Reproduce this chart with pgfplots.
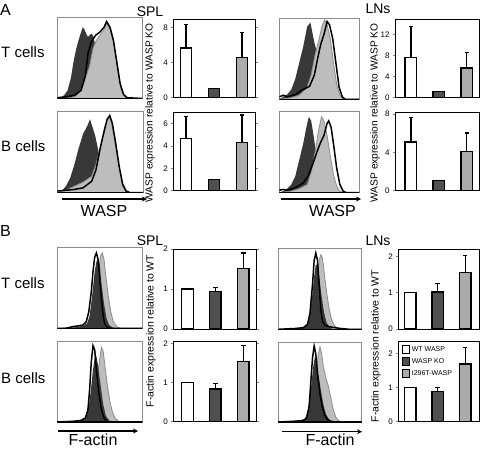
\documentclass[border=0pt]{standalone}
\usepackage{fontspec}
\setmainfont{Liberation Sans}
\usepackage{pgfplots}
\pgfplotsset{compat=1.18}
\usetikzlibrary{arrows.meta}
\definecolor{dk}{HTML}{383838}
\definecolor{lt}{HTML}{BDBDBD}
\definecolor{md}{HTML}{8C8C8C}
\definecolor{kobar}{HTML}{505050}
\definecolor{mutbar}{HTML}{ABABAB}
\pgfplotsset{
 histax/.style={scale only axis, xmin=0, xmax=100, ymin=0, ymax=100, ticks=none,
   axis line style={draw=md, line width=0.8pt}},
 barax/.style={scale only axis, ybar, bar width=11.5pt, /pgf/bar shift=0pt, ymin=0,
   xtick=\empty, axis line style={line width=0.8pt},
   tick align=outside, major tick length=2pt,
   ytick style={line width=0.5pt},
   tick label style={font=\fontsize{8}{9}\selectfont},
   /pgf/number format/assume math mode=true},
 bb/.style={draw=black, line width=1.4pt, fill=#1,
   error bars/y dir=plus, error bars/y explicit,
   error bars/error bar style={line width=1.2pt, black},
   error bars/error mark options={rotate=90, mark size=2.2pt, line width=1.2pt, black}},
 hdk/.style={fill=dk, draw=none},
 hlt/.style={fill=lt, draw=md, line width=0.8pt},
 hbk/.style={draw=black, line width=1.5pt, no marks},
}
\newcommand{\bottomline}{\draw[black, line width=1.4pt] (rel axis cs:0,0) -- (rel axis cs:1,0);}
\begin{document}
\begin{tikzpicture}
\useasboundingbox (0pt,0pt) rectangle (480pt,-448pt);
\begin{scope}[x=1pt,y=1pt]
\tikzset{lab/.style={inner sep=0pt, font=\fontsize{15}{16}\selectfont}}
% panel letters and titles
\node[lab, anchor=base west, font=\fontsize{16}{17}\selectfont] at (0,-15) {A};
\node[lab, anchor=base west, font=\fontsize{16}{17}\selectfont] at (0,-236.7) {B};
\node[lab, anchor=base west] at (1,-57.3) {T cells};
\node[lab, anchor=base west] at (1,-151.7) {B cells};
\node[lab, anchor=base west] at (1,-288.3) {T cells};
\node[lab, anchor=base west] at (1,-383.3) {B cells};
\node[lab, anchor=base, font=\fontsize{14}{15}\selectfont] at (150,-16) {SPL};
\node[lab, anchor=base, font=\fontsize{14}{15}\selectfont] at (378,-13.3) {LNs};
\node[lab, anchor=base, font=\fontsize{14}{15}\selectfont] at (150,-245) {SPL};
\node[lab, anchor=base, font=\fontsize{14}{15}\selectfont] at (378,-245) {LNs};
% x arrows and labels
\draw[line width=1.3pt, -{Stealth[length=5pt,width=5pt]}] (62,-199) -- (147,-199);
\draw[line width=1.3pt, -{Stealth[length=5pt,width=5pt]}] (281,-199) -- (361,-199);
\draw[line width=1.3pt, -{Stealth[length=5pt,width=5pt]}] (58,-431) -- (138,-431);
\draw[line width=1.3pt, -{Stealth[length=5pt,width=5pt]}] (282,-431.7) -- (362,-431.7);
\node[lab, anchor=base, font=\fontsize{16}{17}\selectfont] at (104,-216.7) {WASP};
\node[lab, anchor=base, font=\fontsize{16}{17}\selectfont] at (332.5,-216.7) {WASP};
\node[lab, anchor=base, font=\fontsize{16}{17}\selectfont] at (93,-445) {F-actin};
\node[lab, anchor=base, font=\fontsize{16}{17}\selectfont] at (330,-445) {F-actin};
% y labels
\node[inner sep=0pt, rotate=90, font=\fontsize{10.2}{11}\selectfont] at (150,-113) {WASP expression relative to WASP KO};
\node[inner sep=0pt, rotate=90, font=\fontsize{10.2}{11}\selectfont] at (375,-113) {WASP expression relative to WASP KO};
\node[inner sep=0pt, rotate=90, font=\fontsize{10.4}{11}\selectfont] at (151,-331) {F-actin expression relative to WT};
\node[inner sep=0pt, rotate=90, font=\fontsize{10.4}{11}\selectfont] at (376,-346) {F-actin expression relative to WT};
\end{scope}

% ===== Histograms A =====
\begin{axis}[histax, at={(57.3pt,-17.5pt)}, anchor=north west, width=85pt, height=81pt]
\addplot[hdk] coordinates {(0,0)(3,1)(8,4)(12,10)(16,25)(19,45)(22,60)(25,72)(28,82)(30,88)(32,85)(34,80)(36,76)(38,78)(40,80)(42,78)(45,65)(50,55)(55,48)(60,40)(65,25)(70,10)(75,3)(80,0)(100,0)};
\addplot[hlt] coordinates {(0,0)(15,1)(22,3)(28,10)(33,25)(38,40)(42,62)(46,72)(50,78)(55,85)(58,93)(62,85)(66,70)(70,45)(73,22)(76,8)(80,2)(85,0)(100,0)};
\addplot[hbk] coordinates {(0,1)(10,2)(20,4)(28,10)(33,28)(36,55)(40,70)(45,78)(50,82)(55,88)(58,95)(62,88)(66,72)(70,45)(74,18)(78,5)(82,1)(100,0)};
\bottomline
\end{axis}
\begin{axis}[histax, at={(57.3pt,-111pt)}, anchor=north west, width=86pt, height=81.7pt]
\addplot[hdk] coordinates {(0,0)(5,2)(10,8)(15,18)(20,35)(25,55)(30,72)(35,82)(38,90)(41,80)(44,70)(47,55)(50,40)(54,25)(58,12)(62,5)(66,1)(70,0)(100,0)};
\addplot[hlt] coordinates {(0,0)(10,3)(20,8)(30,13)(40,20)(45,35)(50,55)(55,75)(58,90)(61,96)(64,80)(68,55)(72,30)(76,12)(80,3)(84,0)(100,0)};
\addplot[hbk] coordinates {(0,2)(10,3)(20,4)(30,6)(40,14)(45,28)(50,55)(55,78)(58,90)(61,94)(64,85)(68,60)(72,32)(76,10)(80,2)(85,0)(100,0)};
\bottomline
\end{axis}
\begin{axis}[histax, at={(279.3pt,-18.3pt)}, anchor=north west, width=79.7pt, height=81pt]
\addplot[hdk] coordinates {(0,0)(5,3)(10,6)(15,12)(20,25)(25,45)(30,65)(33,80)(35,90)(37,92)(39,95)(41,85)(44,70)(48,55)(52,45)(56,30)(60,15)(65,5)(70,1)(75,0)(100,0)};
\addplot[hlt] coordinates {(0,0)(15,2)(25,5)(35,15)(40,30)(45,55)(50,75)(54,92)(57,98)(60,92)(64,75)(68,45)(72,18)(76,5)(80,0)(100,0)};
\addplot[hbk] coordinates {(0,3)(5,5)(10,3)(20,6)(30,12)(38,16)(44,30)(48,50)(52,68)(56,80)(60,96)(63,92)(67,75)(71,45)(75,15)(79,3)(83,0)(100,0)};
\bottomline
\end{axis}
\begin{axis}[histax, at={(279.3pt,-111pt)}, anchor=north west, width=79.7pt, height=81.7pt]
\addplot[hdk] coordinates {(0,0)(5,2)(10,5)(15,10)(20,20)(25,40)(30,60)(34,80)(37,93)(40,88)(43,70)(46,50)(50,32)(54,18)(58,8)(62,3)(66,0)(100,0)};
\addplot[hlt] coordinates {(0,0)(15,2)(25,5)(35,10)(40,25)(45,50)(49,75)(53,93)(56,88)(60,70)(64,45)(68,22)(72,8)(76,2)(80,0)(100,0)};
\addplot[hbk] coordinates {(0,3)(5,4)(10,3)(20,6)(30,12)(36,20)(42,35)(48,52)(52,62)(56,70)(60,85)(62,88)(65,80)(68,60)(72,30)(76,10)(80,2)(84,0)(100,0)};
\bottomline
\end{axis}

% ===== Histograms B =====
\begin{axis}[histax, at={(57.3pt,-247.3pt)}, anchor=north west, width=85pt, height=81pt]
\addplot[hlt] coordinates {(0,0)(30,1)(36,3)(40,8)(43,20)(46,45)(49,75)(51,90)(53,93)(55,85)(57,65)(60,40)(63,20)(66,8)(70,2)(75,0)(100,0)};
\addplot[hdk] coordinates {(0,0)(20,1)(30,3)(35,6)(38,15)(41,40)(44,70)(46,82)(48,86)(50,78)(52,55)(55,30)(58,12)(61,4)(65,1)(70,0)(100,0)};
\addplot[hbk] coordinates {(0,0)(10,0)(18,2)(25,3)(30,4)(34,8)(37,20)(40,45)(42,70)(44,88)(46,93)(48,85)(50,60)(52,35)(54,15)(56,5)(59,1)(63,0)(100,0)};
\bottomline
\end{axis}
\begin{axis}[histax, at={(57.3pt,-341.7pt)}, anchor=north west, width=85pt, height=80.3pt]
\addplot[hlt] coordinates {(0,0)(32,1)(37,4)(41,12)(44,30)(47,55)(50,80)(52,93)(54,88)(56,70)(59,45)(62,25)(65,12)(68,5)(72,1)(76,0)(100,0)};
\addplot[hdk] coordinates {(0,0)(25,1)(32,4)(36,12)(39,35)(42,65)(44,80)(46,82)(48,70)(51,45)(54,22)(57,8)(61,2)(65,0)(100,0)};
\addplot[hbk] coordinates {(0,0)(20,1)(28,2)(33,5)(36,15)(38,40)(40,75)(42,95)(44,90)(46,65)(49,35)(52,15)(55,5)(58,1)(62,0)(100,0)};
\bottomline
\end{axis}
\begin{axis}[histax, at={(278.3pt,-248.3pt)}, anchor=north west, width=83.4pt, height=81pt]
\addplot[hlt] coordinates {(0,0)(30,1)(36,4)(40,12)(43,30)(46,60)(49,85)(51,92)(53,88)(55,70)(58,45)(61,25)(64,12)(67,5)(71,1)(75,0)(100,0)};
\addplot[hdk] coordinates {(0,0)(25,1)(33,4)(37,12)(40,35)(43,65)(45,80)(47,80)(49,65)(52,40)(55,20)(58,8)(62,2)(66,0)(100,0)};
\addplot[hbk] coordinates {(0,0)(20,1)(30,2)(35,6)(38,20)(41,55)(43,85)(45,94)(47,85)(49,55)(51,25)(53,10)(56,5)(62,3)(68,2)(75,1)(85,0)(100,0)};
\bottomline
\end{axis}
\begin{axis}[histax, at={(278.3pt,-342pt)}, anchor=north west, width=83.4pt, height=80pt]
\addplot[hlt] coordinates {(0,0)(30,1)(36,5)(40,15)(43,35)(46,65)(48,85)(50,94)(52,85)(54,70)(57,55)(60,45)(63,30)(66,15)(69,6)(72,2)(76,0)(100,0)};
\addplot[hdk] coordinates {(0,0)(25,1)(32,4)(36,15)(39,40)(42,70)(44,82)(46,75)(48,60)(51,40)(54,22)(57,10)(61,3)(65,0)(100,0)};
\addplot[hbk] coordinates {(0,0)(20,1)(30,2)(34,5)(37,20)(39,50)(41,80)(43,95)(45,85)(47,60)(50,35)(53,18)(56,8)(59,3)(63,1)(68,0)(100,0)};
\bottomline
\end{axis}

% ===== Bars A =====
\begin{axis}[barax, at={(173.3pt,-19pt)}, anchor=north west, width=82.4pt, height=78.3pt,
  xmin=-0.454, xmax=2.49, ymax=9, ytick={0,4,8}]
\addplot[bb=white] coordinates {(0,5.68) +- (0,2.70)};
\addplot[bb=kobar] coordinates {(1,1.04)};
\addplot[bb=mutbar] coordinates {(2,4.59) +- (0,2.90)};
\end{axis}
\begin{axis}[barax, at={(173.3pt,-112.3pt)}, anchor=north west, width=82.4pt, height=78.4pt,
  xmin=-0.454, xmax=2.49, ymax=7, ytick={0,2,4,6}]
\addplot[bb=white] coordinates {(0,4.68) +- (0,1.92)};
\addplot[bb=kobar] coordinates {(1,1.02)};
\addplot[bb=mutbar] coordinates {(2,4.32) +- (0,2.44)};
\end{axis}
\begin{axis}[barax, at={(395pt,-19pt)}, anchor=north west, width=84.3pt, height=78.3pt,
  xmin=-0.571, xmax=2.45, ymax=15, ytick={0,4,8,12}]
\addplot[bb=white] coordinates {(0,7.68) +- (0,5.92)};
\addplot[bb=kobar] coordinates {(1,1.07)};
\addplot[bb=mutbar] coordinates {(2,5.64) +- (0,2.93)};
\end{axis}
\begin{axis}[barax, at={(395pt,-112.3pt)}, anchor=north west, width=84.3pt, height=78.4pt,
  xmin=-0.571, xmax=2.45, ymax=8.2, ytick={0,4,8}]
\addplot[bb=white] coordinates {(0,5.10) +- (0,2.58)};
\addplot[bb=kobar] coordinates {(1,1.08)};
\addplot[bb=mutbar] coordinates {(2,4.13) +- (0,1.91)};
\end{axis}

% ===== Bars B =====
\begin{axis}[barax, at={(173.3pt,-249pt)}, anchor=north west, width=83.4pt, height=80pt,
  xmin=-0.51, xmax=2.48, ymax=2, ytick={0,1,2}]
\addplot[bb=white] coordinates {(0,1.0)};
\addplot[bb=kobar] coordinates {(1,0.94) +- (0,0.09)};
\addplot[bb=mutbar] coordinates {(2,1.52) +- (0,0.38)};
\end{axis}
\begin{axis}[barax, at={(173.3pt,-341.7pt)}, anchor=north west, width=83.4pt, height=80pt,
  xmin=-0.51, xmax=2.48, ymax=2.04, ytick={0,1,2}]
\addplot[bb=white] coordinates {(0,1.0)};
\addplot[bb=kobar] coordinates {(1,0.83) +- (0,0.15)};
\addplot[bb=mutbar] coordinates {(2,1.53) +- (0,0.42)};
\end{axis}
\begin{axis}[barax, at={(398.3pt,-249pt)}, anchor=north west, width=80.7pt, height=80pt,
  xmin=-0.43, xmax=2.5, ymax=2.2, ytick={0,1,2}]
\addplot[bb=white] coordinates {(0,1.0)};
\addplot[bb=kobar] coordinates {(1,1.02) +- (0,0.23)};
\addplot[bb=mutbar] coordinates {(2,1.56) +- (0,0.46)};
\end{axis}
\begin{axis}[barax, at={(398.3pt,-341.7pt)}, anchor=north west, width=80.7pt, height=80pt,
  xmin=-0.43, xmax=2.5, ymax=2.35, ytick={0,1,2},
  legend style={draw=none, fill=none, at={(0.03,0.98)}, anchor=north west,
    font=\fontsize{7}{8}\selectfont, inner sep=1pt, row sep=1.5pt,
    legend cell align=left},
  legend image code/.code={\draw[#1, line width=0.9pt] (0pt,-3.5pt) rectangle (7pt,4pt);}]
\addplot[bb=white] coordinates {(0,1.0)};
\addplot[bb=kobar] coordinates {(1,0.89) +- (0,0.11)};
\addplot[bb=mutbar] coordinates {(2,1.70) +- (0,0.49)};
\legend{WT WASP, WASP KO, I296T-WASP}
\end{axis}
\end{tikzpicture}
\end{document}
